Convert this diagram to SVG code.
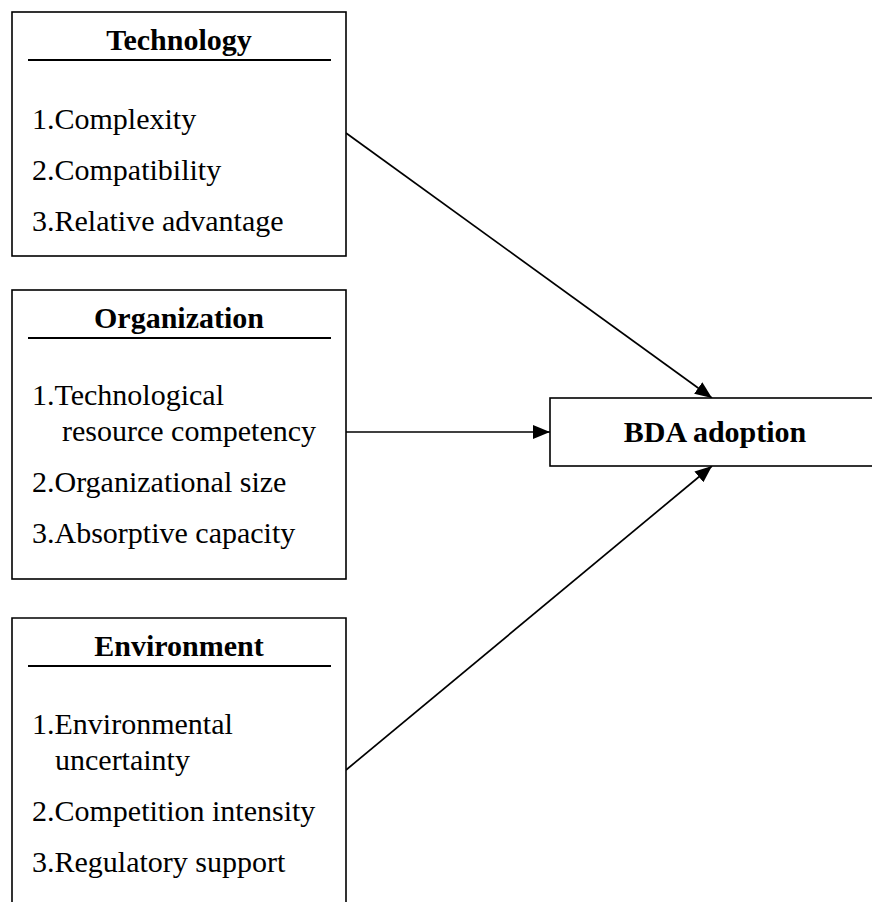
<svg xmlns="http://www.w3.org/2000/svg" width="872" height="902" viewBox="0 0 872 902">
<style>
.box{fill:#fff;stroke:#000;stroke-width:1.6}
.ul{stroke:#000;stroke-width:2}
.t{font-family:"Liberation Serif","Times New Roman",serif;font-size:30px;fill:#000}
.h{font-family:"Liberation Serif","Times New Roman",serif;font-size:30px;font-weight:bold;fill:#000;text-anchor:middle}
.c{stroke:#000;stroke-width:1.7;fill:none}
</style>
<defs>
<marker id="ah" markerUnits="userSpaceOnUse" markerWidth="18" markerHeight="14" refX="17" refY="7" orient="auto">
<path d="M0,0 L17,7 L0,14 z" fill="#000"/>
</marker>
</defs>
<rect width="872" height="902" fill="#fff"/>
<g id="connectors">
<line class="c" x1="346" y1="133" x2="712" y2="398" marker-end="url(#ah)"/>
<line class="c" x1="346" y1="432" x2="550" y2="432" marker-end="url(#ah)"/>
<line class="c" x1="346" y1="770" x2="712" y2="466" marker-end="url(#ah)"/>
</g>
<g id="technology">
<rect class="box" x="12" y="12" width="334" height="244"/>
<text class="h" x="179" y="50">Technology</text>
<line class="ul" x1="28" y1="60" x2="331" y2="60"/>
<text class="t" x="32" y="129">1.Complexity</text>
<text class="t" x="32" y="180">2.Compatibility</text>
<text class="t" x="32" y="231">3.Relative advantage</text>
</g>
<g id="organization">
<rect class="box" x="12" y="290" width="334" height="289"/>
<text class="h" x="179" y="328">Organization</text>
<line class="ul" x1="28" y1="338" x2="331" y2="338"/>
<text class="t" x="32" y="405">1.Technological</text>
<text class="t" x="62" y="441">resource competency</text>
<text class="t" x="32" y="492">2.Organizational size</text>
<text class="t" x="32" y="543">3.Absorptive capacity</text>
</g>
<g id="environment">
<path class="box" d="M12,910 L12,618 L346,618 L346,910"/>
<text class="h" x="179" y="656">Environment</text>
<line class="ul" x1="28" y1="666" x2="331" y2="666"/>
<text class="t" x="32" y="734">1.Environmental</text>
<text class="t" x="55" y="770">uncertainty</text>
<text class="t" x="32" y="821">2.Competition intensity</text>
<text class="t" x="32" y="872">3.Regulatory support</text>
</g>
<g id="bda">
<rect class="box" x="550" y="398" width="330" height="68"/>
<text class="h" x="715" y="442">BDA adoption</text>
</g>
</svg>
